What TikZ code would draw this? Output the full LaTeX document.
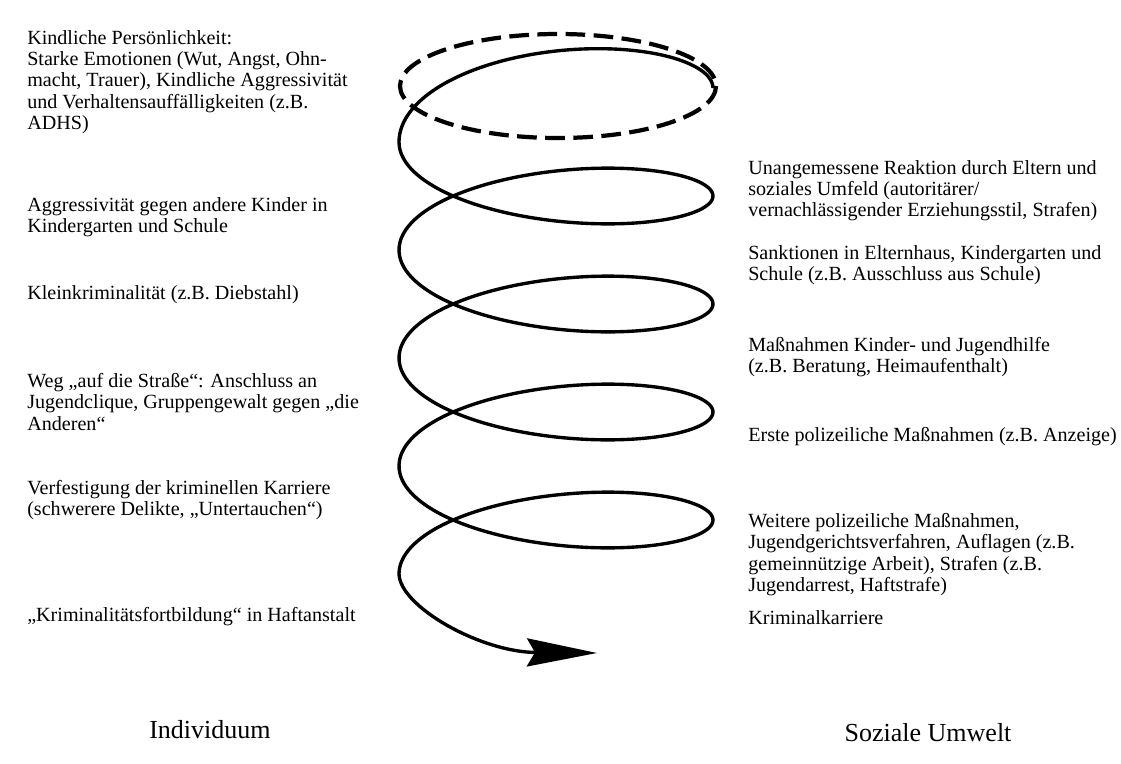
\documentclass[tikz,border=0pt]{standalone}
\usepackage{fontspec}
\setmainfont{Liberation Serif}
\usepackage{tikz}
\usetikzlibrary{arrows.meta}

\begin{document}
\begin{tikzpicture}[x=0.025cm, y=-0.025cm,
    txt/.style={anchor=north west, align=left, inner sep=0pt, font=\fontsize{14.3}{15.2}\selectfont},
    side/.style={inner sep=0pt, font=\fontsize{18.5}{22}\selectfont},
    spiral/.style={line width=2.4pt, line join=round},
    rim/.style={line width=3pt, dash pattern=on 14pt off 6pt}]
            \useasboundingbox (0,0) rectangle (1121,764);

            \node[txt] (i1) at (27, 30) {Kindliche Persönlichkeit:\\Starke Emotionen (Wut, Angst, Ohn-\\macht, Trauer), Kindliche Aggressivität\\und Verhaltensauffälligkeiten (z.B.\\ADHS)};
            \node[txt] (i2) at (27, 197) {Aggressivität gegen andere Kinder in\\Kindergarten und Schule};
            \node[txt] (i3) at (27, 285) {Kleinkriminalität (z.B. Diebstahl)};
            \node[txt] (i4) at (27, 373) {Weg „auf die Straße“: Anschluss an\\Jugendclique, Gruppengewalt gegen „die\\Anderen“};
            \node[txt] (i5) at (27, 480) {Verfestigung der kriminellen Karriere\\(schwerere Delikte, „Untertauchen“)};
            \node[txt] (i6) at (27, 607) {„Kriminalitätsfortbildung“ in Haftanstalt};

            \node[txt] (s1) at (748, 160) {Unangemessene Reaktion durch Eltern und\\soziales Umfeld (autoritärer/\\vernachlässigender Erziehungsstil, Strafen)};
            \node[txt] (s2) at (748, 245) {Sanktionen in Elternhaus, Kindergarten und\\Schule (z.B. Ausschluss aus Schule)};
            \node[txt] (s3) at (748, 337) {Maßnahmen Kinder- und Jugendhilfe\\(z.B. Beratung, Heimaufenthalt)};
            \node[txt] (s4) at (748, 427) {Erste polizeiliche Maßnahmen (z.B. Anzeige)};
            \node[txt] (s5) at (748, 513) {Weitere polizeiliche Maßnahmen,\\Jugendgerichtsverfahren, Auflagen (z.B.\\gemeinnützige Arbeit), Strafen (z.B.\\Jugendarrest, Haftstrafe)};
            \node[txt] (s6) at (748, 610) {Kriminalkarriere};

            \node[side] (ind) at (210, 730) {Individuum};
            \node[side] (umw) at (928, 733) {Soziale Umwelt};

            \draw[rim] (558, 86) ellipse [x radius=158, y radius=52];
            \draw[spiral, -{Stealth[length=1.75cm, width=0.7cm, inset=0.2cm]}]
                plot[domain=0:9*pi, samples=450, smooth, variable=\t]
                    ({556+157*cos(\t r)}, {88+108*\t/(2*pi)-(52+12*(\t<pi))*sin(\t r)})
                .. controls (399, 606) and (480, 652) .. (597, 653);
        \end{tikzpicture}
\end{document}
